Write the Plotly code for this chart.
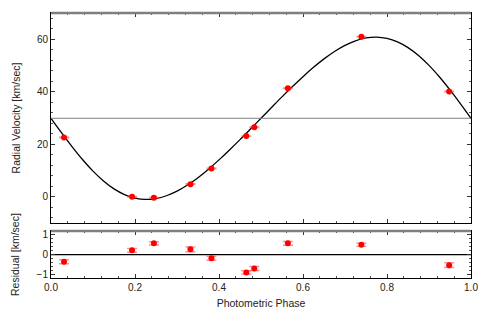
import plotly.graph_objects as go

# Observations
phase = [0.031, 0.193, 0.245, 0.332, 0.382, 0.465, 0.484, 0.564, 0.739, 0.948]
rv = [22.6, 0.0, -0.4, 4.8, 10.8, 23.1, 26.5, 41.3, 61.0, 40.1]
rv_err = [0.10, 0.09, 0.08, 0.12, 0.10, 0.08, 0.10, 0.09, 0.08, 0.12]
resid = [-0.36, 0.21, 0.56, 0.26, -0.18, -0.89, -0.69, 0.56, 0.49, -0.53]

# Orbit model curve
model_phase = [i * 0.025 for i in range(41)]
model_rv = [29.9, 24.42, 19.12, 14.19, 9.77, 6.01, 3.00, 0.82, -0.52, -1.02,
            -0.70, 0.38, 2.12, 4.46, 7.28, 10.51, 14.05, 17.83, 21.76, 25.81,
            29.9, 33.99, 38.04, 41.97, 45.75, 49.29, 52.52, 55.34, 57.68, 59.42,
            60.50, 60.82, 60.32, 58.98, 56.80, 53.79, 50.03, 45.61, 40.68, 35.39,
            29.9]
gamma = 29.9

x_ticks = [0.0, 0.2, 0.4, 0.6, 0.8, 1.0]
x_ticklabels = ["0.0", "0.2", "0.4", "0.6", "0.8", "1.0"]

fig = go.Figure()

fig.add_trace(go.Scatter(x=model_phase, y=model_rv, mode="lines", line=dict(color="black", width=1.3, shape="spline"),
                         xaxis="x", yaxis="y", hoverinfo="skip", showlegend=False))
fig.add_trace(go.Scatter(x=[0, 1], y=[gamma, gamma], mode="lines", line=dict(color="#808080", width=1),
                         xaxis="x", yaxis="y", showlegend=False))
err_style = dict(type="data", visible=True, color="rgba(255,70,70,0.6)", thickness=1.5, width=5)
fig.add_trace(go.Scatter(x=phase, y=rv, mode="markers", marker=dict(color="red", size=6),
                         error_y=dict(array=rv_err, **err_style),
                         xaxis="x", yaxis="y", showlegend=False))
fig.add_trace(go.Scatter(x=[0, 1], y=[0, 0], mode="lines", line=dict(color="black", width=1.2),
                         xaxis="x2", yaxis="y2", showlegend=False))
fig.add_trace(go.Scatter(x=phase, y=resid, mode="markers", marker=dict(color="red", size=6),
                         error_y=dict(array=rv_err, **err_style),
                         xaxis="x2", yaxis="y2", showlegend=False))

ff = "Liberation Sans, Arial, sans-serif"
font = dict(family=ff, size=10, color="#222")
tfont = dict(family=ff, size=10.5, color="#222")
axis_common = dict(showline=True, linecolor="black", linewidth=1, mirror="allticks", ticks="inside",
                   ticklen=4, tickcolor="#333", showgrid=False, zeroline=False, tickfont=font,
                   automargin=False)

top_dom = [0.2075, 1.0]
bot_dom = [0.0, 0.177]

# the page body adds an 8px margin, so the figure is sized/offset to compensate
fig.update_layout(
    width=483, height=304,
    margin=dict(l=43, r=20, t=5, b=34),
    paper_bgcolor="white", plot_bgcolor="white",
    font=font,
    xaxis=dict(domain=[0, 1], range=[0, 1], anchor="y", showticklabels=False,
               tickvals=x_ticks, minor=dict(dtick=0.04, ticks="inside", ticklen=2, tickcolor="#555"),
               **axis_common),
    yaxis=dict(domain=top_dom, range=[-10, 70], anchor="x", tickvals=[0, 20, 40, 60],
               minor=dict(dtick=4, ticks="inside", ticklen=2, tickcolor="#555"),
               title=dict(text="Radial Velocity [km/sec]", font=tfont, standoff=14),
               **axis_common),
    xaxis2=dict(domain=[0, 1], range=[0, 1], anchor="y2", tickvals=x_ticks, ticktext=x_ticklabels,
                minor=dict(dtick=0.04, ticks="inside", ticklen=2, tickcolor="#555"),
                title=dict(text="Photometric Phase", font=tfont, standoff=7),
                **axis_common),
    yaxis2=dict(domain=bot_dom, range=[-1.17, 1.17], anchor="x2", tickvals=[-1, 0, 1],
                minor=dict(dtick=0.2, ticks="inside", ticklen=2, tickcolor="#555"),
                title=dict(text="Residual [km/sec]", font=tfont, standoff=14),
                **axis_common),
    shapes=[
        dict(type="line", xref="paper", yref="paper", x0=0, x1=1, y0=1, y1=1,
             line=dict(color="#7f7f7f", width=2.5)),
        dict(type="line", xref="paper", yref="paper", x0=0, x1=1, y0=bot_dom[1], y1=bot_dom[1],
             line=dict(color="#7f7f7f", width=2.5)),
    ],
)

fig.write_html("out.html")
